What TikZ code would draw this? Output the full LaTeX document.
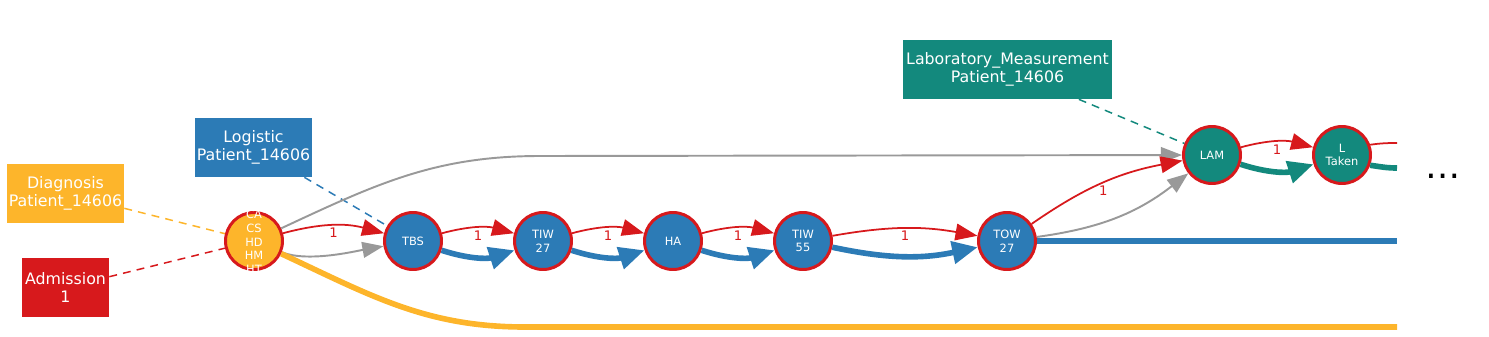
\documentclass[tikz,border=0pt]{standalone}
\usepackage{fontspec}
\setmainfont{DejaVu Sans}
\usetikzlibrary{arrows.meta}
\definecolor{kgred}{HTML}{D7191C}
\definecolor{kgblue}{HTML}{2C7BB6}
\definecolor{kgyellow}{HTML}{FDB52B}
\definecolor{kgteal}{HTML}{13897D}
\definecolor{kggray}{HTML}{999999}

\begin{document}
\begin{tikzpicture}[x=0.02cm, y=0.02cm,
    event/.style={circle, draw=kgred, line width=1.7pt, minimum size=1.14cm,
                  inner sep=0pt, text=white, align=center,
                  font=\fontsize{6.5}{7.8}\selectfont},
    entity/.style={rectangle, text=white, align=center, minimum height=1.18cm,
                   inner sep=0pt, font=\fontsize{9}{10.5}\selectfont},
    link/.style={dash pattern=on 4.5pt off 3.5pt, line width=0.85pt},
    seq/.style={draw=kgred, line width=1pt, -{Triangle[length=12.5pt,width=9.5pt]}},
    flow/.style={line width=3.2pt, -{Triangle[length=14.5pt,width=12.5pt]}},
    flowline/.style={line width=3.2pt},
    jump/.style={draw=kggray, line width=1.1pt, -{Triangle[length=12pt,width=9pt]}},
    cnt/.style={midway, below, inner sep=1pt, text=kgred,
                font=\fontsize{7.5}{9}\selectfont}]
  \useasboundingbox (0,0) rectangle (1489,336);

  % entity boxes
  \node[entity, fill=kgyellow, minimum width=2.34cm] (diag) at (65.5,142.5) {Diagnosis\\Patient\_14606};
  \node[entity, fill=kgred, minimum width=1.74cm] (adm) at (65.5,48.5) {Admission\\1};
  \node[entity, fill=kgblue, minimum width=2.34cm] (logi) at (253.5,188.5) {Logistic\\Patient\_14606};
  \node[entity, fill=kgteal, minimum width=4.18cm] (lab) at (1007.5,266.5) {Laboratory\_Measurement\\Patient\_14606};

  % events
  \node[event, fill=kgyellow] (dx) at (254,95)
    {\smash{\raisebox{-2.8pt}{\begin{tabular}{@{}c@{}}CA\\CS\\HD\\HM\\HT\end{tabular}}}};
  \node[event, fill=kgblue] (tbs) at (413,95) {TBS};
  \node[event, fill=kgblue] (tiwa) at (543,95) {TIW\\27};
  \node[event, fill=kgblue] (ha) at (673,95) {HA};
  \node[event, fill=kgblue] (tiwb) at (803,95) {TIW\\55};
  \node[event, fill=kgblue] (tow) at (1007,95) {TOW\\27};
  \node[event, fill=kgteal] (lam) at (1212,181) {LAM};
  \node[event, fill=kgteal] (lt) at (1342,181) {L\\Taken};
  \node[font=\fontsize{20}{24}\selectfont, inner sep=0pt] (more) at (1443,160) {\ldots};

  % free ends
  \coordinate (grbend) at (540,180);
  \coordinate (dxbend) at (525,9);
  \coordinate (dxend) at (1397,9);
  \coordinate (towend) at (1397,95);
  \coordinate (ltred) at (1397,193);
  \coordinate (ltteal) at (1397,168);

  % entity links
  \draw[link, kgyellow] (diag) -- (dx);
  \draw[link, kgred] (adm) -- (dx);
  \draw[link, kgblue] (logi) -- (tbs);
  \draw[link, kgteal] (lab) -- (lam);

  % long jumps
  \draw[jump] (dx) to[out=25,in=180] (grbend) -- (lam);
  \draw[jump] (dx) to[out=-22,in=190,looseness=0.7] (tbs);
  \draw[jump] (tow) to[bend right=15] (lam);
  \draw[flowline, kgyellow] (dx) to[out=-25,in=180] (dxbend) -- (dxend);

  % sequence
  \draw[seq] (dx) to[bend left=15] node[cnt] {1} (tbs);
  \draw[seq] (tbs) to[bend left=15] node[cnt] {1} (tiwa);
  \draw[seq] (tiwa) to[bend left=15] node[cnt] {1} (ha);
  \draw[seq] (ha) to[bend left=15] node[cnt] {1} (tiwb);
  \draw[seq] (tiwb) to[bend left=10] node[cnt] {1} (tow);
  \draw[seq] (tow) to[bend left=12] node[cnt] {1} (lam);
  \draw[seq] (lam) to[bend left=15] node[cnt] {1} (lt);
  \draw[kgred, line width=1pt] (lt.20) to[out=8,in=180] (ltred);

  % flows
  \draw[flow, kgblue] (tbs) to[bend right=18] (tiwa);
  \draw[flow, kgblue] (tiwa) to[bend right=18] (ha);
  \draw[flow, kgblue] (ha) to[bend right=18] (tiwb);
  \draw[flow, kgblue] (tiwb) to[bend right=12] (tow);
  \draw[flowline, kgblue] (tow) -- (towend);
  \draw[flow, kgteal] (lam) to[bend right=18] (lt);
  \draw[flowline, kgteal] (lt.-20) to[out=-8,in=180] (ltteal);
\end{tikzpicture}
\end{document}
